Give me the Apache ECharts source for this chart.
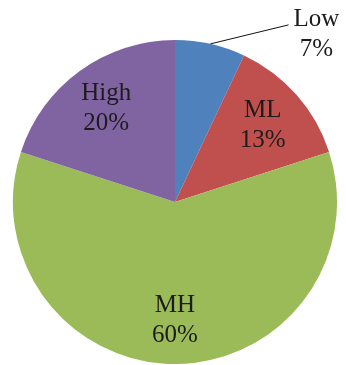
<!DOCTYPE html>
<html>
<head>
<meta charset="utf-8">
<script src="https://cdn.jsdelivr.net/npm/echarts@6/dist/echarts.min.js"></script>
<style>
  html, body { margin: 0; padding: 0; background: #ffffff; }
  #chart { width: 346px; height: 365px; }
</style>
</head>
<body>
<div id="chart"></div>
<script>
// Share of each rating level (percent)
const categories = ['Low', 'ML', 'MH', 'High'];
const shares = [7, 13, 60, 20];
const sliceColors = ['#4f81bd', '#c0504d', '#9bbb59', '#8064a2'];
// Categories whose label sits outside the pie with a leader line
const outsideLabelled = ['Low'];

const labelFont = {
  fontFamily: '"Liberation Serif", "DejaVu Serif", serif',
  fontSize: 25,
  lineHeight: 30,
  color: '#1c1c1c'
};
const labelText = p => p.name + '\n' + p.value + '%';

const chart = echarts.init(document.getElementById('chart'), null, { renderer: 'canvas' });

const pieData = categories.map((name, i) => {
  const outside = outsideLabelled.includes(name);
  return {
    name: name,
    value: shares[i],
    itemStyle: { color: sliceColors[i] },
    label: { show: outside },
    labelLine: { show: outside }
  };
});

// Transparent ring that carries the in-slice labels a bit further out than the default
const labelRingData = categories.map((name, i) => ({
  name: name,
  value: shares[i],
  label: { show: !outsideLabelled.includes(name) }
}));

chart.setOption({
  animation: false,
  series: [
    {
      type: 'pie',
      center: [175, 202],
      radius: 162,
      startAngle: 90,
      clockwise: true,
      avoidLabelOverlap: false,
      silent: true,
      data: pieData,
      itemStyle: { borderWidth: 0 },
      label: Object.assign({ position: 'outside', formatter: labelText }, labelFont),
      labelLine: { length: 19.5, length2: 74, lineStyle: { color: '#111', width: 1 } },
      labelLayout: function (p) {
        const pts = p.labelLinePoints;
        if (!pts) return {};
        const end = pts[2];
        return {
          x: end[0] + 5 + p.labelRect.width / 2,
          y: end[1] + 10,
          align: 'center',
          verticalAlign: 'middle',
          labelLinePoints: [pts[0], end]
        };
      }
    },
    {
      type: 'pie',
      center: [175, 203],
      radius: [68, 160],
      startAngle: 90,
      clockwise: true,
      avoidLabelOverlap: false,
      silent: true,
      data: labelRingData,
      itemStyle: { color: 'rgba(0,0,0,0)', borderWidth: 0 },
      label: Object.assign({ position: 'inside', formatter: labelText }, labelFont),
      labelLine: { show: false }
    }
  ]
});
</script>
</body>
</html>
